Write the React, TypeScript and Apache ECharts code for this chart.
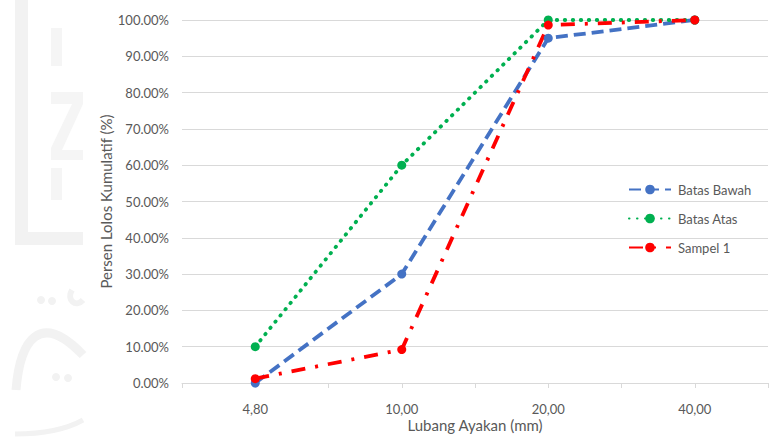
import React, { useEffect, useRef } from "react";
import * as echarts from "echarts";

// Sieve openings (mm) and cumulative passing percentages
const sieveSizes = ["4,80", "10,00", "20,00", "40,00"];
const batasBawah = [0, 30, 95, 100];
const batasAtas = [10, 60, 100, 100];
const sampel1 = [1.2, 9.2, 98.6, 100];
const yTicks = { min: 0, max: 100, step: 10 };

const TEXT = "#595959";
const GRID_LINE = "#d9d9d9";
const FONT = "Lato, 'Noto Sans', sans-serif";
const MARK = "#f2f2f2";

export default function App() {
  const ref = useRef<HTMLDivElement>(null);

  useEffect(() => {
    if (!ref.current) return;
    const chart = echarts.init(ref.current, undefined, { renderer: "svg" });

    const seriesStyle = (
      name: string,
      data: number[],
      color: string,
      dash: number[],
      cap: "butt" | "round"
    ) => ({
      name,
      type: "line",
      data,
      xAxisIndex: 0,
      symbol: "circle",
      symbolSize: 9,
      itemStyle: { color },
      lineStyle: { color, width: 3.8, type: dash, cap },
      z: 3,
    });

    const bg = (el: any) => ({ ...el, silent: true, z: -10 });

    chart.setOption({
      animation: false,
      backgroundColor: "#ffffff",
      textStyle: { fontFamily: FONT, color: TEXT },
      graphic: [
        // faint background emblem along the left edge
        bg({ type: "rect", shape: { x: 15, y: 0, width: 13, height: 245 }, style: { fill: MARK } }),
        bg({ type: "rect", shape: { x: 15, y: 232, width: 68, height: 13 }, style: { fill: MARK } }),
        bg({ type: "rect", shape: { x: 51, y: 28, width: 11, height: 38 }, style: { fill: "#f5f5f5" } }),
        bg({ type: "polygon", shape: { points: [[51, 92], [83, 92], [83, 104], [62, 150], [83, 150], [83, 160], [51, 160], [51, 148], [72, 104], [51, 104]] }, style: { fill: "#f5f5f5" } }),
        bg({ type: "rect", shape: { x: 51, y: 168, width: 11, height: 32 }, style: { fill: "#f5f5f5" } }),
        bg({ type: "circle", shape: { cx: 41, cy: 300, r: 4 }, style: { fill: MARK } }),
        bg({ type: "circle", shape: { cx: 52, cy: 301, r: 4 }, style: { fill: MARK } }),
        bg({ type: "circle", shape: { cx: 56, cy: 377, r: 4 }, style: { fill: MARK } }),
        bg({ type: "circle", shape: { cx: 68, cy: 378, r: 4 }, style: { fill: MARK } }),
        bg({ type: "bezierCurve", shape: { x1: 16, y1: 390, cpx1: 20, cpy1: 340, cpx2: 40, cpy2: 310, x2: 83, y2: 355 }, style: { stroke: MARK, lineWidth: 9, fill: "none" } }),
        bg({ type: "bezierCurve", shape: { x1: 15, y1: 434, cpx1: 40, cpy1: 434, cpx2: 65, cpy2: 430, x2: 83, y2: 420 }, style: { stroke: MARK, lineWidth: 5, fill: "none" } }),
        bg({ type: "bezierCurve", shape: { x1: 72, y1: 290, cpx1: 66, cpy1: 300, cpx2: 76, cpy2: 308, x2: 83, y2: 300 }, style: { stroke: MARK, lineWidth: 6, fill: "none" } }),
      ],
      legend: {
        orient: "vertical",
        left: 628,
        top: 183,
        padding: 0,
        itemWidth: 42,
        itemHeight: 12,
        itemGap: 16,
        textStyle: { fontFamily: FONT, fontSize: 13, color: TEXT, padding: [0, 0, 0, 2] },
        data: ["Batas Bawah", "Batas Atas", "Sampel 1"],
      },
      grid: { left: 182, top: 20, width: 586, height: 363, containLabel: false },
      xAxis: [
        {
          type: "category",
          data: sieveSizes,
          boundaryGap: true,
          name: "Lubang Ayakan (mm)",
          nameLocation: "middle",
          nameGap: 34,
          nameMoveOverlap: false,
          nameTextStyle: { fontFamily: FONT, fontSize: 15, color: TEXT },
          axisLine: { lineStyle: { color: GRID_LINE, width: 1 } },
          axisTick: { show: true, length: 5, lineStyle: { color: GRID_LINE } },
          axisLabel: { fontFamily: FONT, fontSize: 13, color: TEXT, margin: 19 },
          splitLine: { show: false },
        },
        {
          type: "category",
          data: sieveSizes,
          boundaryGap: true,
          position: "bottom",
          axisLine: { show: false },
          axisTick: { show: true, alignWithLabel: true, length: 5, lineStyle: { color: GRID_LINE } },
          axisLabel: { show: false },
          splitLine: { show: false },
        },
      ],
      yAxis: {
        type: "value",
        min: yTicks.min,
        max: yTicks.max,
        interval: yTicks.step,
        name: "Persen Lolos Kumulatif (%)",
        nameLocation: "middle",
        nameGap: 69,
        nameMoveOverlap: false,
        nameTextStyle: { fontFamily: FONT, fontSize: 15, color: TEXT },
        axisLine: { show: false },
        axisTick: { show: false },
        axisLabel: {
          fontFamily: FONT,
          fontSize: 13,
          color: TEXT,
          margin: 13,
          formatter: (v: number) => v.toFixed(2) + "%",
        },
        splitLine: { lineStyle: { color: GRID_LINE, width: 1 } },
      },
      series: [
        seriesStyle("Batas Bawah", batasBawah, "#4472C4", [12, 6], "butt"),
        seriesStyle("Batas Atas", batasAtas, "#00B050", [0.5, 7.5], "round"),
        seriesStyle("Sampel 1", sampel1, "#FF0000", [14, 10, 3, 10], "butt"),
      ],
    });

    return () => chart.dispose();
  }, []);

  return <div ref={ref} style={{ width: 782, height: 441, position: "absolute", left: 0, top: 0 }} />;
}
